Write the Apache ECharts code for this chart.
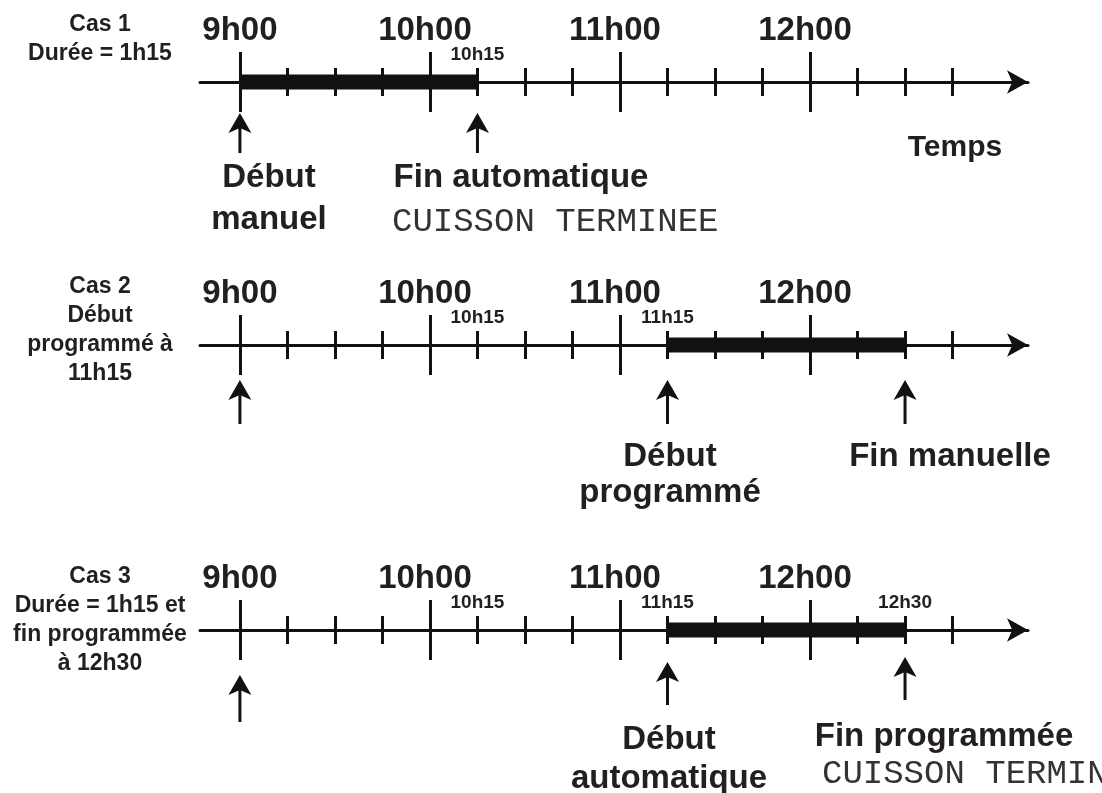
<!DOCTYPE html>
<html>
<head>
<meta charset="utf-8">
<title>Cuisson programmée</title>
<script src="https://cdn.jsdelivr.net/npm/echarts/dist/echarts.min.js"></script>
<style>
  body { margin: 0; background: #fff; }
  #myChart { width: 1102px; height: 793px; }
</style>
</head>
<body>
<div id="myChart"></div>
<script>
  // heures en décimal (9.25 = 9h15)
  const hourTicks = [9, 10, 11, 12];
  const hourLabels = ['9h00', '10h00', '11h00', '12h00'];
  const quarterTicks = [9.25, 9.5, 9.75, 10.25, 10.5, 10.75, 11.25, 11.5, 11.75, 12.25, 12.5, 12.75];

  // repères secondaires écrits au-dessus de l'axe
  const cas1Marks = [10.25];
  const cas1MarkLabels = ['10h15'];
  const cas2Marks = [10.25, 11.25];
  const cas2MarkLabels = ['10h15', '11h15'];
  const cas3Marks = [10.25, 11.25, 12.5];
  const cas3MarkLabels = ['10h15', '11h15', '12h30'];

  // période de cuisson (début, fin)
  const cas1Period = [9, 10.25];
  const cas2Period = [11.25, 12.5];
  const cas3Period = [11.25, 12.5];

  // flèches verticales
  const cas1Arrows = [9, 10.25];
  const cas2Arrows = [9, 11.25, 12.5];
  const cas3Arrows = [9, 11.25, 12.5];

  const rows = [
    { marks: cas1Marks, markLabels: cas1MarkLabels, period: cas1Period, arrows: cas1Arrows },
    { marks: cas2Marks, markLabels: cas2MarkLabels, period: cas2Period, arrows: cas2Arrows },
    { marks: cas3Marks, markLabels: cas3MarkLabels, period: cas3Period, arrows: cas3Arrows }
  ];

  // mise en page (pixels)
  const axisY = [82, 345, 630];
  const arrowTip = [[31, 31], [35, 35, 35], [45, 32, 27]];
  const arrowTail = [[71, 71], [79, 79, 79], [92, 75, 70]];
  const INK = '#111';
  const TEXT = '#231f20';
  const SANS = '"Liberation Sans", Arial, Helvetica, sans-serif';

  let myChart = echarts.init(document.getElementById('myChart'));

  let grids = [], xAxes = [], yAxes = [], series = [];

  rows.forEach(function (row, r) {
    // deux grilles superposées de hauteur nulle : heures / quarts d'heure
    for (let k = 0; k < 2; k++) {
      grids.push({ left: 200, right: 74, top: axisY[r], height: 0 });
      yAxes.push({ type: 'value', gridIndex: 2 * r + k, min: -1, max: 1, show: false });
    }
    let base = {
      type: 'value', min: 8.79, max: 13.147,
      splitLine: { show: false },
      axisLine: { show: false, onZero: false },
      axisLabel: { show: false }
    };
    // axe principal avec la flèche + graduations des heures vers le bas
    xAxes.push(Object.assign({}, base, {
      gridIndex: 2 * r, position: 'bottom',
      axisLine: {
        show: true, onZero: false,
        symbol: ['none', 'arrow'], symbolSize: [17.5, 21],
        lineStyle: { color: INK, width: 3 }
      },
      axisTick: { show: true, customValues: hourTicks, length: 30, lineStyle: { color: INK, width: 3 } }
    }));
    // graduations des heures vers le haut + libellés
    xAxes.push(Object.assign({}, base, {
      gridIndex: 2 * r, position: 'top',
      axisTick: { show: true, customValues: hourTicks, length: 30, lineStyle: { color: INK, width: 3 } },
      axisLabel: {
        show: true, customValues: hourTicks, margin: 35,
        formatter: function (v) {
          let s = hourLabels[hourTicks.indexOf(v)];
          // les libellés à deux chiffres sont un peu décalés vers la gauche
          return s.length > 4 ? '{l|' + s + '}' : s;
        },
        rich: { l: { padding: [0, 10, 0, 0] } },
        fontFamily: SANS, fontWeight: 'bold', fontSize: 33, color: TEXT
      }
    }));
    // quarts d'heure vers le bas
    xAxes.push(Object.assign({}, base, {
      gridIndex: 2 * r + 1, position: 'bottom',
      axisTick: { show: true, customValues: quarterTicks, length: 14, lineStyle: { color: INK, width: 3 } }
    }));
    // quarts d'heure vers le haut + petits libellés
    xAxes.push(Object.assign({}, base, {
      gridIndex: 2 * r + 1, position: 'top',
      axisTick: { show: true, customValues: quarterTicks, length: 14, lineStyle: { color: INK, width: 3 } },
      axisLabel: {
        show: true, customValues: row.marks, margin: 18,
        formatter: function (v) { return row.markLabels[row.marks.indexOf(v)]; },
        fontFamily: SANS, fontWeight: 'bold', fontSize: 19, color: TEXT
      }
    }));

    // barre épaisse = durée de cuisson
    series.push({
      type: 'line', xAxisIndex: 4 * r, yAxisIndex: 2 * r,
      data: [[row.period[0], 0], [row.period[1], 0]],
      symbol: 'none', clip: false, silent: true, z: 3,
      lineStyle: { color: INK, width: 15, cap: 'butt' }
    });

    // flèches verticales sous l'axe
    series.push({
      type: 'custom', xAxisIndex: 4 * r, yAxisIndex: 2 * r,
      data: row.arrows.map(function (t) { return [t, 0]; }),
      clip: false, silent: true, z: 4,
      renderItem: function (params, api) {
        let p = api.coord([api.value(0), 0]);
        let x = p[0];
        let tip = p[1] + arrowTip[r][params.dataIndex];
        let tail = p[1] + arrowTail[r][params.dataIndex];
        return {
          type: 'group',
          children: [
            {
              type: 'line',
              shape: { x1: x, y1: tail, x2: x, y2: tip + 14 },
              style: { stroke: INK, lineWidth: 3 }
            },
            {
              type: 'polygon',
              shape: { points: [[x, tip], [x + 11.5, tip + 20], [x, tip + 15], [x - 11.5, tip + 20]] },
              style: { fill: INK }
            }
          ]
        };
      }
    });
  });

  function txt(x, y, text, font, lineHeight, align, fill) {
    return {
      type: 'text', x: x, y: y, silent: true,
      style: {
        text: text, font: font, fill: fill || TEXT, lineHeight: lineHeight,
        align: align || 'center', verticalAlign: 'top'
      }
    };
  }

  const bold23 = 'bold 23px ' + SANS;
  const bold33 = 'bold 33px ' + SANS;
  const mono34 = '34px "Liberation Mono", "Courier New", monospace';

  let option = {
    backgroundColor: '#fff',
    animation: false,
    grid: grids,
    xAxis: xAxes,
    yAxis: yAxes,
    series: series,
    graphic: [
      // titres des cas
      txt(100, 10.5, 'Cas 1\nDurée = 1h15', bold23, 29),
      txt(100, 272.5, 'Cas 2\nDébut\nprogrammé à\n11h15', bold23, 29),
      txt(100, 562.5, 'Cas 3\nDurée = 1h15 et\nfin programmée\nà 12h30', bold23, 29),
      // cas 1
      txt(269, 156.6, 'Début\nmanuel', bold33, 42),
      txt(521, 156.6, 'Fin automatique', bold33, 42),
      txt(392, 205, 'CUISSON TERMINEE', mono34, 34, 'left', '#333'),
      txt(955, 132.6, 'Temps', 'bold 30px ' + SANS, 30),
      // cas 2
      txt(670, 438.6, 'Début\nprogrammé', bold33, 36),
      txt(950, 440, 'Fin manuelle', bold33, 33),
      // cas 3
      txt(669, 720, 'Début\nautomatique', bold33, 39),
      txt(944, 720, 'Fin programmée', bold33, 33),
      txt(822, 757, 'CUISSON TERMINEE', mono34, 34, 'left', '#333')
    ]
  };

  myChart.setOption(option);
  window.addEventListener('resize', function () {
    myChart.resize();
  });
</script>
</body>
</html>
